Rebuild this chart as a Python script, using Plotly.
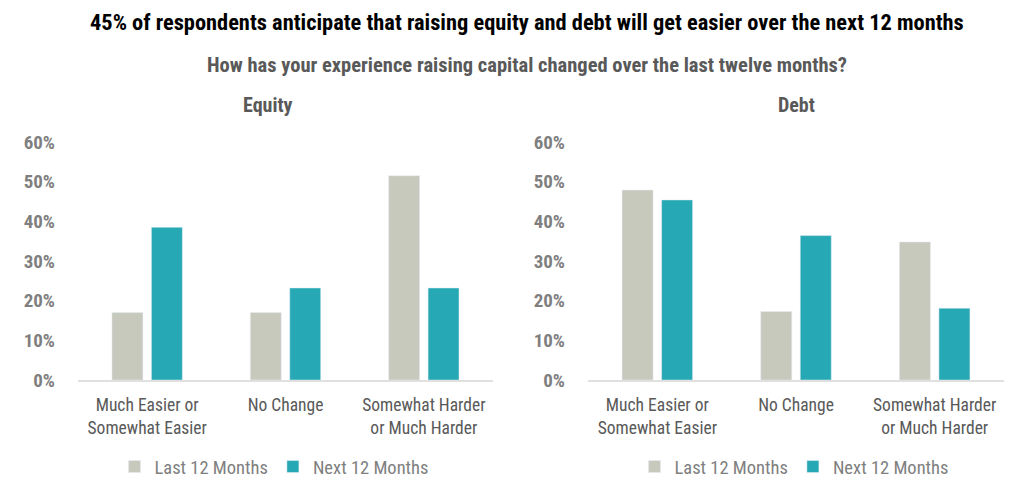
import plotly.graph_objects as go

categories = ["Much Easier or<br>Somewhat Easier", "No Change", "Somewhat Harder<br>or Much Harder"]
series_names = ["Last 12 Months", "Next 12 Months"]
equity_last = [0.17, 0.17, 0.515]
equity_next = [0.385, 0.232, 0.232]
debt_last = [0.479, 0.173, 0.348]
debt_next = [0.454, 0.364, 0.181]
y_ticks = [0, 0.1, 0.2, 0.3, 0.4, 0.5, 0.6]

GRAY = "#c8c9bd"
TEAL = "#27a9b5"
FONT = "Liberation Sans Narrow, Roboto Condensed, Arial Narrow, Liberation Sans, sans-serif"

fig = go.Figure()

fig.add_trace(go.Bar(x=categories, y=equity_last, name=series_names[0], marker_color=GRAY,
                     xaxis="x", yaxis="y", legend="legend"))
fig.add_trace(go.Bar(x=categories, y=equity_next, name=series_names[1], marker_color=TEAL,
                     xaxis="x", yaxis="y", legend="legend"))
fig.add_trace(go.Bar(x=categories, y=debt_last, name=series_names[0], marker_color=GRAY,
                     xaxis="x2", yaxis="y2", legend="legend2"))
fig.add_trace(go.Bar(x=categories, y=debt_next, name=series_names[1], marker_color=TEAL,
                     xaxis="x2", yaxis="y2", legend="legend2"))

ydom = [1 - 380 / 494, 1 - 142 / 494]
xaxis_common = dict(showgrid=False, zeroline=False, showline=True, linecolor="#e0e0e0", linewidth=2,
                    ticks="", ticklabelstandoff=8, automargin=False,
                    tickfont=dict(family=FONT, size=17.5, color="#595959"))
yaxis_common = dict(range=[0, 0.6], tickvals=y_ticks, tickformat=".0%", showgrid=False, zeroline=False,
                    showline=False, ticks="", ticklabelstandoff=22, automargin=False,
                    tickfont=dict(family=FONT, size=19, color="#7f7f7f", weight="bold"))

legend_common = dict(orientation="h", y=1 - 467 / 494, yanchor="middle", xanchor="center",
                     font=dict(family=FONT, size=18.5, color="#7f7f7f"), itemwidth=30, traceorder="normal")

fig.update_layout(
    width=1024, height=494,
    margin=dict(l=0, r=0, t=0, b=0, autoexpand=False),
    paper_bgcolor="white", plot_bgcolor="white",
    barmode="group", bargap=0.43, bargroupgap=0.215,
    font=dict(family=FONT),
    xaxis=dict(domain=[78 / 1024, 493 / 1024], anchor="y", **xaxis_common),
    yaxis=dict(domain=ydom, anchor="x", **yaxis_common),
    xaxis2=dict(domain=[588 / 1024, 1004 / 1024], anchor="y2", **xaxis_common),
    yaxis2=dict(domain=ydom, anchor="x2", **yaxis_common),
    legend=dict(x=274 / 1024, **legend_common),
    legend2=dict(x=794 / 1024, **legend_common),
    showlegend=True,
    annotations=[
        dict(text="45% of respondents anticipate that raising equity and debt will get easier over the next 12 months",
             x=527 / 1024, y=1 - 22 / 494, xref="paper", yref="paper", showarrow=False,
             xanchor="center", yanchor="middle",
             font=dict(family=FONT, size=22.4, color="black", weight="bold")),
        dict(text="How has your experience raising capital changed over the last twelve months?",
             x=527 / 1024, y=1 - 65 / 494, xref="paper", yref="paper", showarrow=False,
             xanchor="center", yanchor="middle",
             font=dict(family=FONT, size=20.5, color="#595959", weight="bold")),
        dict(text="Equity", x=268 / 1024, y=1 - 105 / 494, xref="paper", yref="paper", showarrow=False,
             xanchor="center", yanchor="middle",
             font=dict(family=FONT, size=20, color="#595959", weight="bold")),
        dict(text="Debt", x=796 / 1024, y=1 - 105 / 494, xref="paper", yref="paper", showarrow=False,
             xanchor="center", yanchor="middle",
             font=dict(family=FONT, size=20, color="#595959", weight="bold")),
    ],
)

fig.write_html("out.html", config={"displayModeBar": False},
               post_script="document.body.style.margin='0';document.body.style.overflow='hidden';")
